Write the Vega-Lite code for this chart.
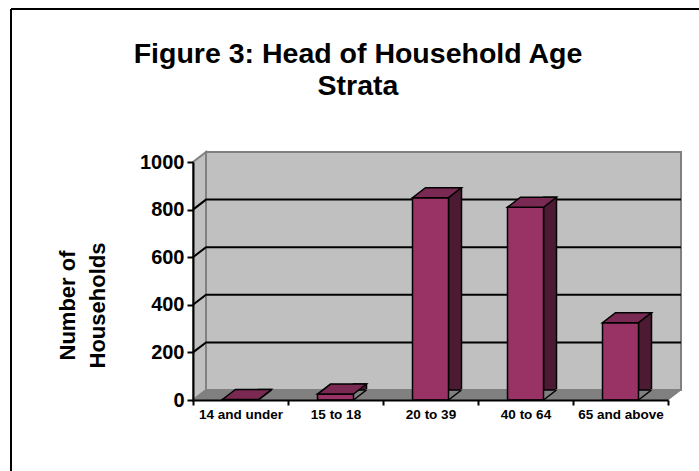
{
  "$schema": "https://vega.github.io/schema/vega-lite/v6.json",
  "width": 688,
  "height": 462,
  "autosize": {"type": "none"},
  "padding": {"left": 11, "top": 9, "right": 0, "bottom": 0},
  "background": "white",
  "config": {"view": {"stroke": null}, "font": "Liberation Sans"},
  "title": {
    "text": ["Figure 3: Head of Household Age", "Strata"],
    "font": "Liberation Sans",
    "fontSize": 28.5,
    "fontWeight": "bold",
    "color": "black",
    "anchor": "middle",
    "frame": "group",
    "baseline": "alphabetic",
    "lineHeight": 32,
    "offset": 0,
    "dx": 3,
    "dy": 115
  },
  "datasets": {
    "strata": [
      {"age": "14 and under", "households": 2},
      {"age": "15 to 18", "households": 25},
      {"age": "20 to 39", "households": 850},
      {"age": "40 to 64", "households": 810},
      {"age": "65 and above", "households": 325}
    ],
    "grid": [
      {"households": 200},
      {"households": 400},
      {"households": 600},
      {"households": 800}
    ],
    "frame": [{}]
  },
  "layer": [
    {
      "data": {"name": "frame"},
      "mark": {"type": "rule", "stroke": "black", "strokeWidth": 2},
      "encoding": {"x": {"value": 0}, "x2": {"value": "width"}, "y": {"value": 0}}
    },
    {
      "data": {"name": "frame"},
      "mark": {"type": "rule", "stroke": "black", "strokeWidth": 2},
      "encoding": {"x": {"value": 0}, "y": {"value": 0}, "y2": {"value": "height"}}
    },
    {
      "data": {"name": "frame"},
      "mark": {"type": "point", "shape": "M13,-10L488,-10L488,228L13,228Z", "size": 4, "filled": true, "fill": "#C0C0C0", "stroke": "#808080", "strokeWidth": 2, "opacity": 1},
      "encoding": {
        "x": {"datum": "14 and under", "type": "nominal", "bandPosition": 0},
        "y": {"datum": 1000, "type": "quantitative"}
      }
    },
    {
      "data": {"name": "frame"},
      "mark": {"type": "point", "shape": "M0,0L13,-10L13,228L0,238Z", "size": 4, "filled": true, "fill": "#C0C0C0", "stroke": "#808080", "strokeWidth": 2, "opacity": 1},
      "encoding": {
        "x": {"datum": "14 and under", "type": "nominal", "bandPosition": 0},
        "y": {"datum": 1000, "type": "quantitative"}
      }
    },
    {
      "data": {"name": "frame"},
      "mark": {"type": "point", "shape": "M0,0L475,0L488,-10L13,-10Z", "size": 4, "filled": true, "fill": "#808080", "stroke": "#808080", "strokeWidth": 1, "opacity": 1},
      "encoding": {
        "x": {"datum": "14 and under", "type": "nominal", "bandPosition": 0},
        "y": {"datum": 0, "type": "quantitative"}
      }
    },
    {
      "data": {"name": "grid"},
      "mark": {"type": "point", "shape": "M0,0L13,-10L488,-10", "size": 4, "filled": false, "stroke": "black", "strokeWidth": 2, "opacity": 1},
      "encoding": {
        "x": {"datum": "14 and under", "type": "nominal", "bandPosition": 0},
        "y": {"field": "households", "type": "quantitative"}
      }
    },
    {
      "data": {"name": "strata"},
      "mark": {"type": "bar", "width": 13, "xOffset": 24.5, "yOffset": -10, "y2Offset": 0, "fill": "#4D1A33", "stroke": "black", "strokeWidth": 1.5},
      "encoding": {
        "x": {"field": "age", "type": "nominal"},
        "y": {"field": "households", "type": "quantitative"}
      }
    },
    {
      "data": {"name": "strata"},
      "mark": {"type": "point", "shape": "M18,1L31,-11L33,-11L33,1Z", "size": 4, "filled": true, "fill": "#808080", "strokeWidth": 0, "opacity": 1},
      "encoding": {
        "x": {"field": "age", "type": "nominal"},
        "y": {"datum": 0, "type": "quantitative"}
      }
    },
    {
      "data": {"name": "strata"},
      "mark": {"type": "point", "shape": "M18,0L31,-10", "size": 4, "filled": false, "stroke": "black", "strokeWidth": 1.5, "opacity": 1},
      "encoding": {
        "x": {"field": "age", "type": "nominal"},
        "y": {"datum": 0, "type": "quantitative"}
      }
    },
    {
      "data": {"name": "strata"},
      "mark": {"type": "bar", "width": 36, "fill": "#993366", "stroke": "black", "strokeWidth": 1.5},
      "encoding": {
        "x": {
          "field": "age",
          "type": "nominal",
          "scale": {
            "type": "band",
            "domain": ["14 and under", "15 to 18", "20 to 39", "40 to 64", "65 and above"],
            "range": [182, 657],
            "paddingInner": 0,
            "paddingOuter": 0
          },
          "axis": {
            "orient": "bottom",
            "offset": -71,
            "title": null,
            "zindex": 1,
            "bandPosition": 0.5,
            "labelAngle": 0,
            "labelAlign": "center",
            "labelFont": "Liberation Sans",
            "labelFontSize": 13.5,
            "labelFontWeight": "bold",
            "labelColor": "black",
            "labelPadding": 9,
            "tickBand": "extent",
            "tickSize": 5,
            "tickWidth": 2,
            "tickColor": "black",
            "domainColor": "black",
            "domainWidth": 2,
            "grid": false
          }
        },
        "y": {
          "field": "households",
          "type": "quantitative",
          "scale": {"domain": [0, 1000], "range": [391, 153], "nice": false},
          "axis": {
            "orient": "left",
            "offset": -182,
            "zindex": 1,
            "values": [0, 200, 400, 600, 800, 1000],
            "format": "d",
            "grid": false,
            "labelFont": "Liberation Sans",
            "labelFontSize": 20,
            "labelFontWeight": "bold",
            "labelColor": "black",
            "labelPadding": 3,
            "tickSize": 6,
            "tickWidth": 2,
            "tickColor": "black",
            "domainColor": "black",
            "domainWidth": 2,
            "title": ["Number of", "Households"],
            "titleFont": "Liberation Sans",
            "titleFontSize": 22,
            "titleFontWeight": "bold",
            "titleColor": "black",
            "titleAngle": -90,
            "titleAlign": "center",
            "titleBaseline": "alphabetic",
            "titleLineHeight": 30,
            "titleX": -119,
            "titleY": 296
          }
        }
      }
    },
    {
      "data": {"name": "strata"},
      "mark": {"type": "point", "shape": "M-18,0L18,0L31,-10L-5,-10Z", "size": 4, "filled": true, "fill": "#7A2952", "stroke": "black", "strokeWidth": 1.5, "opacity": 1},
      "encoding": {
        "x": {"field": "age", "type": "nominal"},
        "y": {"field": "households", "type": "quantitative"}
      }
    }
  ]
}
